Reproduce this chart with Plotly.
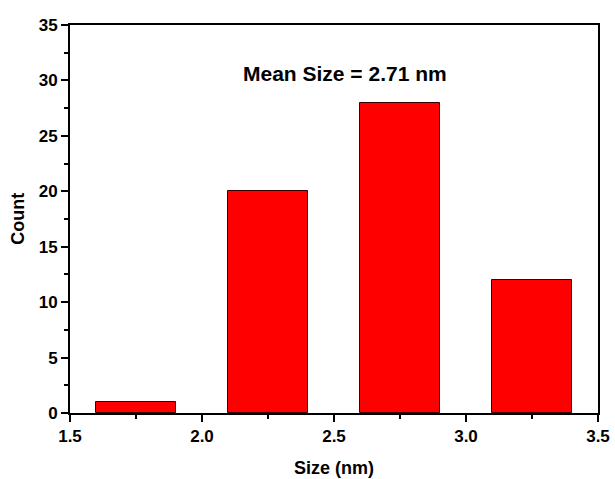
import plotly.graph_objects as go

sizes = [1.75, 2.25, 2.75, 3.25]
counts = [1, 20, 28, 12]
bin_width = 0.3
x_ticks = [1.5, 2.0, 2.5, 3.0, 3.5]
y_ticks = [0, 5, 10, 15, 20, 25, 30, 35]
mean_label = "Mean Size = 2.71 nm"

fam = "Liberation Sans, Arial, sans-serif"
tick_font = dict(family=fam, color="black", size=17, weight="bold")
title_font = dict(family=fam, color="black", size=18, weight="bold")

fig = go.Figure()
fig.add_trace(go.Bar(
    x=sizes, y=counts, width=[bin_width] * len(sizes),
    marker=dict(color="#ff0000", line=dict(color="#3a0000", width=1)),
))

axis_common = dict(
    showline=True, linecolor="black", linewidth=2, mirror=True,
    ticks="outside", ticklen=7, tickwidth=2, tickcolor="black",
    showgrid=False, zeroline=False, tickfont=tick_font, automargin=False,
)
fig.update_xaxes(
    range=[1.5, 3.5], tickvals=x_ticks, ticktext=[f"{v:.1f}" for v in x_ticks],
    minor=dict(ticks="outside", ticklen=4, tickwidth=2, tickcolor="black", dtick=0.25, tick0=1.5),
    **axis_common,
)
fig.update_yaxes(
    range=[0, 35], tickvals=y_ticks,
    minor=dict(ticks="outside", ticklen=4, tickwidth=2, tickcolor="black", dtick=2.5, tick0=0),
    **axis_common,
)
fig.add_annotation(
    x=2.54, y=30.6, text=mean_label, showarrow=False,
    font=dict(family=fam, color="black", size=21, weight="bold"),
)
# axis titles
fig.add_annotation(
    xref="paper", yref="paper", x=0.5, y=-0.142, yanchor="middle",
    text="Size (nm)", showarrow=False, font=title_font,
)
fig.add_annotation(
    xref="paper", yref="paper", x=-0.099, y=0.5, xanchor="center",
    text="Count", showarrow=False, textangle=-90, font=title_font,
)
fig.update_layout(
    width=615, height=479,
    margin=dict(l=70, r=17, t=25, b=66),
    paper_bgcolor="white", plot_bgcolor="white",
    showlegend=False, bargap=0,
)
fig.write_html("out.html")
